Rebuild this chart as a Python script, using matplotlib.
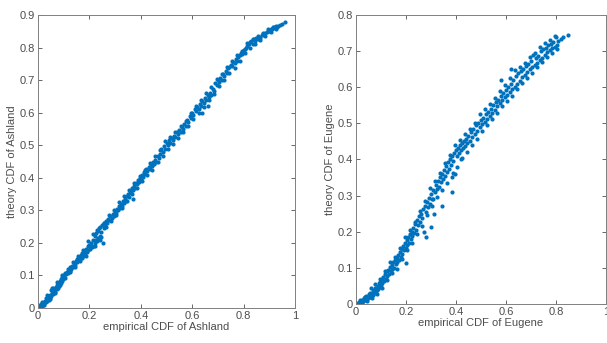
import matplotlib.pyplot as plt

# Ashland: empirical CDF vs theory CDF
ash_x = [0.000, 0.005, 0.008, 0.010, 0.012, 0.015, 0.018, 0.020, 0.022, 0.025, 0.028, 0.030, 0.032, 0.035,
         0.038, 0.040, 0.042, 0.045, 0.048, 0.050, 0.052, 0.055, 0.058, 0.060, 0.062, 0.065, 0.068, 0.070,
         0.072, 0.075, 0.078, 0.080, 0.083, 0.085, 0.088, 0.090, 0.093, 0.095, 0.098, 0.100, 0.103, 0.106,
         0.110, 0.113, 0.116, 0.120, 0.123, 0.126, 0.130, 0.133, 0.136, 0.140, 0.143, 0.146, 0.150, 0.153,
         0.156, 0.160, 0.163, 0.166, 0.170, 0.173, 0.176, 0.180, 0.183, 0.186, 0.190, 0.193, 0.196, 0.200,
         0.203, 0.206, 0.210, 0.213, 0.216, 0.220, 0.222, 0.225, 0.228, 0.230, 0.233, 0.236, 0.240, 0.243,
         0.246, 0.250, 0.252, 0.255, 0.258, 0.262, 0.266, 0.270, 0.274, 0.278, 0.282, 0.286, 0.290, 0.294,
         0.298, 0.302, 0.306, 0.310, 0.314, 0.318, 0.322, 0.326, 0.330, 0.334, 0.338, 0.342, 0.346, 0.350,
         0.354, 0.358, 0.362, 0.366, 0.370, 0.374, 0.378, 0.382, 0.386, 0.390, 0.394, 0.398, 0.402, 0.406,
         0.410, 0.414, 0.418, 0.422, 0.426, 0.430, 0.434, 0.438, 0.442, 0.446, 0.450, 0.455, 0.460, 0.465,
         0.470, 0.475, 0.480, 0.485, 0.490, 0.495, 0.500, 0.505, 0.510, 0.515, 0.520, 0.525, 0.530, 0.535,
         0.540, 0.545, 0.550, 0.555, 0.560, 0.565, 0.570, 0.575, 0.580, 0.585, 0.590, 0.595, 0.600, 0.605,
         0.610, 0.615, 0.620, 0.625, 0.630, 0.635, 0.640, 0.645, 0.650, 0.655, 0.660, 0.665, 0.670, 0.675,
         0.680, 0.685, 0.690, 0.695, 0.700, 0.705, 0.710, 0.715, 0.720, 0.725, 0.730, 0.735, 0.740, 0.745,
         0.750, 0.755, 0.760, 0.765, 0.770, 0.775, 0.780, 0.785, 0.790, 0.795, 0.800, 0.805, 0.810, 0.815,
         0.820, 0.825, 0.830, 0.835, 0.840, 0.845, 0.850, 0.855, 0.860, 0.865, 0.870, 0.875, 0.880, 0.885,
         0.890, 0.895, 0.900, 0.905, 0.910, 0.915, 0.920, 0.925, 0.930, 0.935, 0.940, 0.950, 0.960,
         0.220, 0.240, 0.370, 0.640, 0.660]
ash_y = [0.000, 0.002, 0.008, 0.004, 0.012, 0.007, 0.015, 0.010, 0.020, 0.013, 0.022, 0.018, 0.030, 0.022,
         0.028, 0.035, 0.025, 0.040, 0.032, 0.055, 0.038, 0.045, 0.060, 0.042, 0.052, 0.058, 0.050, 0.065,
         0.058, 0.070, 0.062, 0.075, 0.068, 0.082, 0.078, 0.088, 0.082, 0.095, 0.090, 0.102, 0.095, 0.108,
         0.104, 0.112, 0.108, 0.118, 0.114, 0.125, 0.120, 0.130, 0.126, 0.138, 0.132, 0.145, 0.140, 0.150,
         0.146, 0.158, 0.150, 0.163, 0.155, 0.170, 0.160, 0.175, 0.168, 0.182, 0.172, 0.190, 0.178, 0.195,
         0.180, 0.200, 0.186, 0.210, 0.192, 0.220, 0.200, 0.232, 0.205, 0.240, 0.215, 0.245, 0.222, 0.250,
         0.235, 0.255, 0.200, 0.245, 0.260, 0.252, 0.268, 0.262, 0.275, 0.270, 0.282, 0.276, 0.290, 0.284,
         0.298, 0.292, 0.305, 0.300, 0.312, 0.306, 0.320, 0.314, 0.328, 0.322, 0.336, 0.330, 0.344, 0.350,
         0.342, 0.360, 0.352, 0.368, 0.362, 0.376, 0.370, 0.385, 0.380, 0.392, 0.388, 0.400, 0.396, 0.410,
         0.404, 0.418, 0.412, 0.426, 0.420, 0.432, 0.428, 0.440, 0.436, 0.448, 0.442, 0.456, 0.450, 0.466,
         0.460, 0.474, 0.490, 0.480, 0.498, 0.490, 0.508, 0.500, 0.515, 0.508, 0.522, 0.516, 0.530, 0.524,
         0.540, 0.534, 0.548, 0.542, 0.556, 0.550, 0.566, 0.560, 0.578, 0.570, 0.590, 0.584, 0.600, 0.594,
         0.610, 0.604, 0.618, 0.612, 0.628, 0.620, 0.636, 0.630, 0.645, 0.640, 0.654, 0.648, 0.662, 0.656,
         0.672, 0.666, 0.690, 0.684, 0.700, 0.694, 0.708, 0.702, 0.718, 0.712, 0.728, 0.722, 0.736, 0.740,
         0.748, 0.745, 0.756, 0.752, 0.764, 0.760, 0.772, 0.776, 0.784, 0.780, 0.792, 0.796, 0.800, 0.806,
         0.810, 0.816, 0.820, 0.812, 0.826, 0.820, 0.830, 0.826, 0.834, 0.830, 0.838, 0.842, 0.840, 0.846,
         0.848, 0.852, 0.850, 0.856, 0.858, 0.860, 0.862, 0.866, 0.864, 0.868, 0.870, 0.872, 0.878,
         0.190, 0.210, 0.335, 0.600, 0.620]

# Ashland, the looser points at the edges of the band
ash_x2 = [0.015, 0.025, 0.035, 0.045, 0.055, 0.065, 0.075, 0.085, 0.095, 0.105, 0.115, 0.125, 0.135, 0.145,
          0.155, 0.165, 0.175, 0.185, 0.195, 0.205, 0.215, 0.225, 0.235, 0.245, 0.255, 0.265, 0.275, 0.285,
          0.295, 0.305, 0.315, 0.325, 0.335, 0.345, 0.355, 0.365, 0.375, 0.385, 0.395, 0.405, 0.415, 0.425,
          0.435, 0.445, 0.455, 0.465, 0.475, 0.485, 0.495, 0.505, 0.515, 0.525, 0.535, 0.545, 0.555, 0.565,
          0.575, 0.585, 0.595, 0.605, 0.615, 0.625, 0.635, 0.645, 0.655, 0.665, 0.675, 0.685, 0.695, 0.705,
          0.715, 0.725, 0.735, 0.745, 0.755, 0.765, 0.775, 0.785, 0.795, 0.805, 0.815, 0.825, 0.835, 0.845,
          0.855, 0.865, 0.875, 0.885, 0.895, 0.905, 0.915, 0.925]
ash_y2 = [0.020, 0.008, 0.040, 0.028, 0.062, 0.045, 0.080, 0.070, 0.100, 0.092, 0.120, 0.110, 0.142, 0.125,
          0.160, 0.145, 0.178, 0.160, 0.205, 0.190, 0.228, 0.210, 0.238, 0.218, 0.262, 0.250, 0.285, 0.268,
          0.302, 0.285, 0.325, 0.308, 0.345, 0.328, 0.362, 0.350, 0.385, 0.368, 0.405, 0.390, 0.425, 0.408,
          0.445, 0.425, 0.468, 0.450, 0.485, 0.468, 0.512, 0.488, 0.525, 0.505, 0.540, 0.522, 0.560, 0.540,
          0.575, 0.558, 0.600, 0.582, 0.620, 0.598, 0.640, 0.618, 0.660, 0.638, 0.680, 0.658, 0.705, 0.682,
          0.720, 0.700, 0.742, 0.722, 0.760, 0.738, 0.776, 0.758, 0.790, 0.782, 0.815, 0.800, 0.828, 0.812,
          0.836, 0.822, 0.846, 0.836, 0.856, 0.848, 0.864, 0.858]

# Eugene: empirical CDF vs theory CDF
eug_x = [0.000, 0.005, 0.008, 0.010, 0.012, 0.015, 0.018, 0.020, 0.022, 0.025, 0.028, 0.030, 0.032, 0.035,
         0.038, 0.040, 0.042, 0.045, 0.048, 0.050, 0.052, 0.055, 0.058, 0.060, 0.062, 0.065, 0.068, 0.070,
         0.072, 0.075, 0.078, 0.080, 0.082, 0.085, 0.088, 0.090, 0.092, 0.095, 0.098, 0.100, 0.103, 0.106,
         0.110, 0.113, 0.116, 0.120, 0.123, 0.126, 0.130, 0.133, 0.136, 0.140, 0.143, 0.146, 0.150, 0.153,
         0.156, 0.160, 0.163, 0.166, 0.170, 0.173, 0.176, 0.180, 0.183, 0.186, 0.190, 0.193, 0.196, 0.200,
         0.203, 0.206, 0.210, 0.213, 0.216, 0.220, 0.223, 0.226, 0.230, 0.234, 0.238, 0.242, 0.246, 0.250,
         0.254, 0.258, 0.262, 0.266, 0.270, 0.274, 0.278, 0.282, 0.286, 0.290, 0.294, 0.298, 0.302, 0.306,
         0.310, 0.314, 0.318, 0.322, 0.326, 0.330, 0.334, 0.338, 0.342, 0.346, 0.350, 0.354, 0.358, 0.362,
         0.366, 0.370, 0.374, 0.378, 0.382, 0.386, 0.390, 0.394, 0.398, 0.402, 0.406, 0.410, 0.414, 0.418,
         0.422, 0.426, 0.430, 0.434, 0.438, 0.442, 0.446, 0.450, 0.455, 0.460, 0.465, 0.470, 0.475, 0.480,
         0.485, 0.490, 0.495, 0.500, 0.505, 0.510, 0.515, 0.520, 0.525, 0.530, 0.535, 0.540, 0.545, 0.550,
         0.555, 0.560, 0.565, 0.570, 0.575, 0.580, 0.585, 0.590, 0.595, 0.600, 0.605, 0.610, 0.615, 0.620,
         0.625, 0.630, 0.635, 0.640, 0.645, 0.650, 0.655, 0.660, 0.665, 0.670, 0.675, 0.680, 0.685, 0.690,
         0.695, 0.700, 0.705, 0.710, 0.715, 0.720, 0.725, 0.730, 0.735, 0.740, 0.745, 0.750, 0.755, 0.760,
         0.765, 0.770, 0.775, 0.780, 0.785, 0.790, 0.795, 0.800, 0.805, 0.810, 0.820, 0.830, 0.850,
         0.280, 0.300, 0.580, 0.620, 0.310, 0.420]
eug_y = [0.000, 0.001, 0.003, 0.002, 0.005, 0.003, 0.007, 0.004, 0.010, 0.006, 0.012, 0.008, 0.015, 0.010,
         0.018, 0.012, 0.022, 0.014, 0.020, 0.016, 0.028, 0.020, 0.025, 0.018, 0.045, 0.028, 0.035, 0.025,
         0.038, 0.030, 0.055, 0.036, 0.045, 0.038, 0.050, 0.042, 0.058, 0.048, 0.062, 0.052, 0.068, 0.058,
         0.075, 0.064, 0.082, 0.070, 0.090, 0.078, 0.095, 0.082, 0.102, 0.090, 0.108, 0.096, 0.115, 0.100,
         0.122, 0.110, 0.128, 0.115, 0.135, 0.122, 0.145, 0.130, 0.152, 0.138, 0.160, 0.148, 0.168, 0.155,
         0.178, 0.162, 0.185, 0.170, 0.195, 0.180, 0.200, 0.188, 0.210, 0.196, 0.222, 0.206, 0.232, 0.218,
         0.244, 0.228, 0.250, 0.238, 0.262, 0.200, 0.270, 0.255, 0.282, 0.268, 0.292, 0.278, 0.305, 0.290,
         0.315, 0.250, 0.310, 0.330, 0.318, 0.340, 0.325, 0.352, 0.338, 0.360, 0.345, 0.372, 0.355, 0.382,
         0.365, 0.392, 0.375, 0.400, 0.385, 0.410, 0.395, 0.418, 0.360, 0.425, 0.410, 0.432, 0.418, 0.440,
         0.426, 0.446, 0.432, 0.452, 0.438, 0.458, 0.446, 0.465, 0.452, 0.475, 0.462, 0.485, 0.470, 0.495,
         0.480, 0.502, 0.490, 0.510, 0.498, 0.516, 0.505, 0.525, 0.512, 0.532, 0.520, 0.540, 0.530, 0.550,
         0.538, 0.560, 0.548, 0.566, 0.556, 0.575, 0.565, 0.584, 0.572, 0.592, 0.580, 0.600, 0.588, 0.610,
         0.595, 0.620, 0.600, 0.630, 0.610, 0.640, 0.618, 0.645, 0.628, 0.652, 0.635, 0.660, 0.642, 0.664,
         0.650, 0.672, 0.655, 0.690, 0.662, 0.680, 0.668, 0.688, 0.675, 0.700, 0.680, 0.705, 0.690, 0.710,
         0.698, 0.716, 0.704, 0.720, 0.708, 0.725, 0.712, 0.738, 0.718, 0.728, 0.735, 0.740, 0.745,
         0.186, 0.214, 0.620, 0.650, 0.290, 0.400]

# Eugene, the looser points and the stragglers below the band
eug_x2 = [0.015, 0.025, 0.035, 0.045, 0.055, 0.065, 0.075, 0.085, 0.095, 0.105, 0.115, 0.125, 0.135, 0.145,
          0.155, 0.165, 0.175, 0.185, 0.195, 0.205, 0.215, 0.225, 0.235, 0.245, 0.255, 0.265, 0.275, 0.285,
          0.295, 0.305, 0.315, 0.325, 0.335, 0.345, 0.355, 0.365, 0.375, 0.385, 0.395, 0.405, 0.415, 0.425,
          0.435, 0.445, 0.455, 0.465, 0.475, 0.485, 0.495, 0.505, 0.515, 0.525, 0.535, 0.545, 0.555, 0.565,
          0.575, 0.585, 0.595, 0.605, 0.615, 0.625, 0.635, 0.645, 0.655, 0.665, 0.675, 0.685, 0.695, 0.705,
          0.715, 0.725, 0.735, 0.745, 0.755, 0.765, 0.775, 0.785, 0.795, 0.805,
          0.387, 0.383, 0.343, 0.200]
eug_y2 = [0.010, 0.002, 0.020, 0.008, 0.030, 0.015, 0.045, 0.028, 0.070, 0.045, 0.090, 0.065, 0.115, 0.085,
          0.130, 0.098, 0.155, 0.125, 0.185, 0.150, 0.205, 0.170, 0.228, 0.195, 0.258, 0.215, 0.285, 0.245,
          0.320, 0.270, 0.340, 0.295, 0.362, 0.315, 0.390, 0.335, 0.412, 0.352, 0.440, 0.380, 0.455, 0.405,
          0.470, 0.420, 0.485, 0.440, 0.500, 0.458, 0.525, 0.478, 0.540, 0.495, 0.555, 0.512, 0.570, 0.528,
          0.590, 0.548, 0.605, 0.562, 0.625, 0.575, 0.648, 0.595, 0.655, 0.612, 0.668, 0.625, 0.685, 0.640,
          0.695, 0.655, 0.712, 0.670, 0.722, 0.685, 0.730, 0.695, 0.742, 0.705,
          0.362, 0.311, 0.270, 0.113]

blue = '#0072BD'
grey = '#4d4d4d'

plt.rcParams['font.family'] = ['Liberation Sans', 'DejaVu Sans']
fig = plt.figure(figsize=(6.07, 3.43), dpi=100)

panels = [
    (ash_x + ash_x2, ash_y + ash_y2, 0.9, [0.0626, 0.102, 0.4234, 0.854], 'Ashland'),
    (eug_x + eug_x2, eug_y + eug_y2, 0.8, [0.5865, 0.114, 0.4115, 0.842], 'Eugene'),
]

for xs, ys, ymax, rect, name in panels:
    ax = fig.add_axes(rect)
    ax.scatter(xs, ys, s=9, color=blue, linewidths=0)
    ax.set_xlim(0, 1)
    ax.set_ylim(0, ymax)
    ax.set_xticks([0, 0.2, 0.4, 0.6, 0.8, 1])
    ax.set_xticklabels(['0', '0.2', '0.4', '0.6', '0.8', '1'])
    yt = [i / 10 for i in range(int(round(ymax * 10)) + 1)]
    ax.set_yticks(yt)
    ax.set_yticklabels(['0'] + [f'{v:.1f}' for v in yt[1:]])
    ax.tick_params(direction='in', length=3, width=0.6, labelsize=8, colors=grey,
                   top=True, right=True, pad=2)
    for sp in ax.spines.values():
        sp.set_color('#808080')
        sp.set_linewidth(0.7)
    ax.set_xlabel(f'empirical CDF of {name}', fontsize=8, color=grey, labelpad=1)
    ax.set_ylabel(f'theory CDF of {name}', fontsize=8, color=grey, labelpad=2)

fig.savefig('out.png', dpi=100)
